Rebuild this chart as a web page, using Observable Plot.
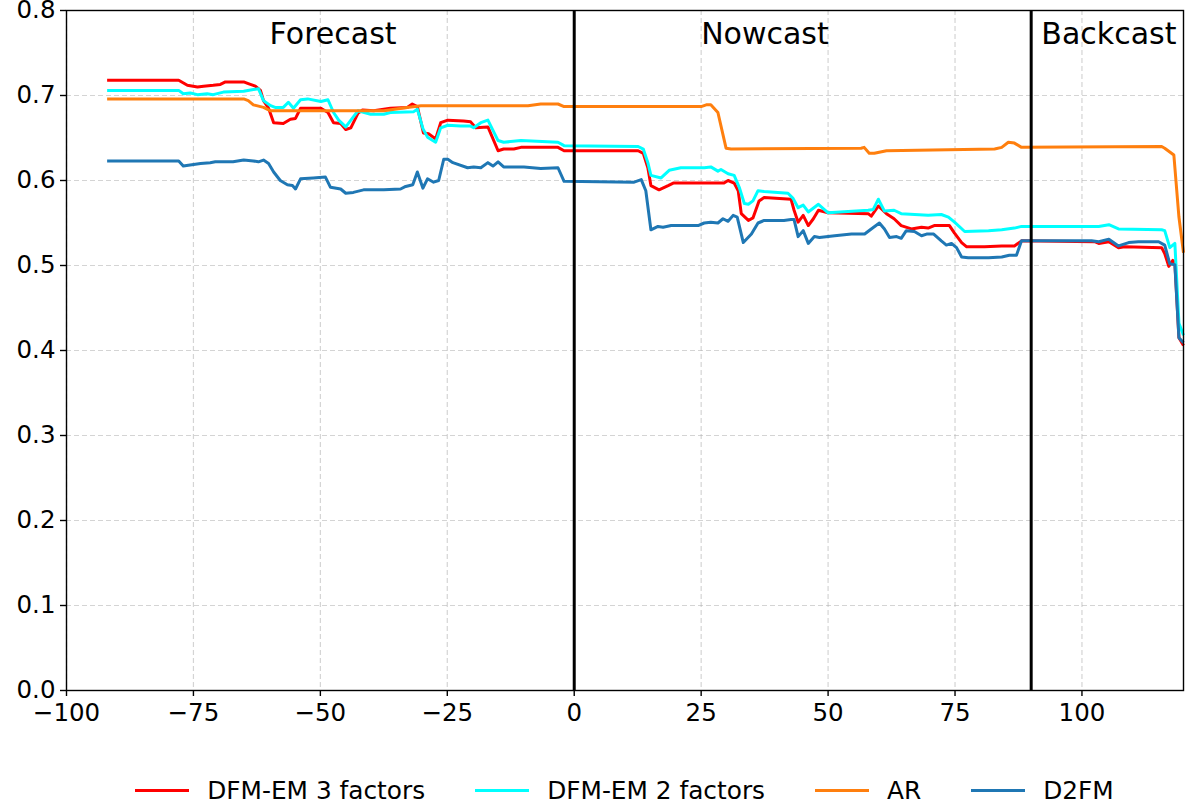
<!DOCTYPE html>
<html>
<head>
<meta charset="utf-8">
<script src="https://cdn.jsdelivr.net/npm/d3@7"></script>
<script src="https://cdn.jsdelivr.net/npm/@observablehq/plot@0.6"></script>
<style>
  html, body { margin: 0; padding: 0; background: white; }
  #chart { width: 1192px; }
  #legend { display: flex; justify-content: center; align-items: center; gap: 50px;
    padding-left: 66px; padding-right: 9px; height: 62px; box-sizing: border-box; width: 1192px;
    font-family: "DejaVu Sans", sans-serif; font-size: 24.8px; color: black; padding-top: 28px; }
  .item { display: flex; align-items: center; }
  .sw { width: 54px; height: 3px; margin-right: 18px; }
</style>
</head>
<body>
<div id="chart"></div>
<div id="legend"></div>
<script>
const seriesNames = ["DFM-EM 3 factors", "DFM-EM 2 factors", "AR", "D2FM"];
const seriesColors = ["#ff0000", "#00ffff", "#ff7f0e", "#1f77b4"];
const xTicks = [-100, -75, -50, -25, 0, 25, 50, 75, 100];
const yTicks = [0, 0.1, 0.2, 0.3, 0.4, 0.5, 0.6, 0.7, 0.8];
const phaseLabels = ["Forecast", "Nowcast", "Backcast"];
const phaseStarts = [-60, 25, 92];
const phaseBounds = [0, 90];

const dfm3 = [[-92,0.718],[-77.9,0.718],[-76.2,0.712],[-74.2,0.710],[-73.0,0.711],[-71.1,0.712],[-69.7,0.713],[-68.7,0.716],[-65.1,0.716],[-64.2,0.714],[-62.8,0.711],[-61.8,0.706],[-61.2,0.694],[-60.2,0.685],[-59.2,0.668],[-57.3,0.667],[-55.9,0.672],[-54.9,0.673],[-53.9,0.685],[-49.9,0.685],[-48.5,0.680],[-47.4,0.668],[-46.0,0.667],[-45.0,0.660],[-44.0,0.662],[-42.6,0.679],[-41.7,0.683],[-39.5,0.682],[-36.2,0.685],[-32.9,0.686],[-31.9,0.690],[-30.9,0.687],[-29.7,0.656],[-28.7,0.655],[-27.3,0.649],[-26.3,0.668],[-24.9,0.671],[-21.8,0.670],[-20.4,0.669],[-19.4,0.662],[-17.0,0.663],[-15.0,0.635],[-13.9,0.637],[-11.9,0.637],[-10.5,0.639],[-3.2,0.639],[-2.0,0.635],[12.6,0.635],[13.6,0.632],[14.5,0.615],[15.1,0.594],[16.7,0.589],[18.5,0.594],[19.5,0.597],[29.5,0.597],[30.3,0.600],[31.5,0.597],[32.3,0.588],[32.9,0.561],[34.3,0.553],[35.2,0.556],[36.4,0.576],[37.4,0.580],[42.7,0.578],[43.3,0.565],[44.1,0.551],[45.1,0.559],[46.1,0.547],[47.1,0.555],[48.1,0.565],[50.0,0.562],[57.9,0.561],[58.5,0.558],[59.9,0.570],[61.5,0.561],[63.0,0.555],[64.4,0.547],[66.4,0.543],[68.4,0.545],[69.7,0.544],[70.9,0.547],[73.9,0.547],[74.9,0.538],[76.3,0.527],[77.3,0.522],[80.8,0.522],[84.2,0.523],[86.7,0.523],[88.1,0.529],[102.5,0.528],[103.3,0.526],[105.3,0.528],[107.2,0.521],[108.4,0.522],[115.7,0.521],[116.3,0.514],[117.1,0.499],[117.9,0.506],[118.3,0.503],[119.1,0.415],[120,0.406]];

const dfm2 = [[-92,0.706],[-77.9,0.706],[-77.0,0.702],[-75.6,0.703],[-74.2,0.701],[-72.3,0.702],[-71.1,0.701],[-69.1,0.704],[-65.1,0.705],[-63.2,0.707],[-62.2,0.708],[-61.2,0.694],[-59.8,0.688],[-58.9,0.686],[-57.3,0.686],[-56.3,0.692],[-55.3,0.685],[-53.9,0.695],[-52.5,0.696],[-49.9,0.693],[-48.5,0.695],[-47.4,0.680],[-46.4,0.671],[-45.0,0.663],[-42.6,0.682],[-40.1,0.678],[-37.5,0.678],[-36.2,0.680],[-31.6,0.681],[-30.9,0.684],[-29.8,0.661],[-28.9,0.651],[-27.3,0.645],[-26.3,0.662],[-24.9,0.665],[-22.4,0.664],[-20.4,0.664],[-19.8,0.662],[-18.4,0.668],[-17.0,0.671],[-15.0,0.647],[-13.9,0.645],[-10.5,0.647],[-3.2,0.645],[-2.0,0.641],[12.6,0.640],[13.6,0.637],[14.5,0.621],[15.1,0.606],[17.1,0.603],[18.7,0.612],[21.0,0.615],[25.6,0.615],[26.9,0.616],[28.3,0.611],[28.9,0.613],[30.3,0.608],[31.5,0.606],[32.5,0.592],[33.5,0.573],[34.3,0.572],[35.2,0.576],[36.2,0.588],[37.4,0.587],[42.1,0.585],[43.1,0.579],[44.1,0.568],[45.1,0.571],[46.1,0.563],[48.1,0.572],[50.0,0.562],[57.9,0.565],[58.9,0.566],[59.9,0.578],[61.1,0.564],[63.0,0.565],[64.4,0.561],[69.7,0.559],[72.3,0.560],[73.7,0.557],[74.9,0.551],[76.9,0.540],[81.6,0.541],[84.2,0.542],[86.7,0.544],[88.1,0.546],[103.3,0.546],[105.3,0.548],[107.2,0.543],[115.7,0.542],[116.3,0.541],[117.3,0.521],[118.3,0.526],[119.1,0.432],[120,0.418]];

const ar = [[-92,0.696],[-65.1,0.696],[-64.2,0.694],[-63.2,0.689],[-61.2,0.686],[-59.8,0.682],[-37.5,0.682],[-32.9,0.686],[-30.2,0.688],[-9.1,0.688],[-6.6,0.690],[-3.2,0.690],[-2.0,0.687],[25.0,0.687],[26.0,0.689],[26.9,0.689],[28.3,0.680],[29.9,0.638],[30.9,0.637],[56.5,0.638],[57.1,0.639],[58.1,0.632],[59.1,0.632],[61.5,0.635],[82.8,0.637],[84.2,0.639],[85.5,0.645],[86.7,0.644],[88.1,0.639],[115.7,0.640],[116.3,0.638],[118.1,0.630],[119.1,0.557],[120,0.515]];

const d2fm = [[-92,0.623],[-77.9,0.623],[-77.0,0.617],[-76.0,0.618],[-73.6,0.620],[-71.7,0.621],[-70.7,0.622],[-67.2,0.622],[-65.1,0.624],[-63.2,0.623],[-62.2,0.622],[-61.2,0.624],[-60.2,0.620],[-59.2,0.610],[-57.9,0.600],[-56.5,0.595],[-55.5,0.594],[-54.9,0.590],[-53.9,0.602],[-51.4,0.603],[-49.0,0.604],[-48.0,0.592],[-46.0,0.590],[-45.0,0.585],[-43.5,0.586],[-41.5,0.589],[-37.5,0.589],[-34.2,0.590],[-33.2,0.593],[-31.8,0.595],[-30.9,0.610],[-29.8,0.591],[-28.9,0.602],[-27.7,0.598],[-26.7,0.600],[-25.7,0.625],[-24.9,0.625],[-23.9,0.621],[-21.0,0.615],[-19.8,0.616],[-18.4,0.615],[-17.0,0.621],[-16.0,0.617],[-15.0,0.622],[-13.9,0.616],[-9.9,0.616],[-6.6,0.614],[-3.2,0.615],[-2.0,0.599],[11.8,0.598],[13.2,0.601],[14.1,0.588],[15.1,0.542],[16.5,0.546],[17.5,0.545],[19.1,0.547],[24.4,0.547],[25.6,0.550],[26.9,0.551],[28.3,0.550],[29.3,0.555],[30.3,0.552],[31.3,0.559],[32.1,0.557],[33.3,0.527],[34.9,0.537],[36.2,0.550],[37.4,0.553],[41.3,0.553],[42.7,0.554],[43.3,0.554],[44.1,0.534],[45.1,0.541],[46.1,0.526],[47.3,0.534],[48.3,0.533],[51.3,0.535],[54.6,0.537],[57.2,0.537],[58.5,0.543],[60.1,0.550],[61.1,0.543],[62.1,0.533],[63.5,0.534],[64.4,0.532],[65.4,0.541],[67.0,0.540],[68.4,0.535],[69.4,0.537],[70.8,0.537],[72.3,0.529],[73.3,0.524],[74.3,0.526],[75.3,0.521],[76.3,0.510],[77.6,0.509],[81.6,0.509],[84.2,0.510],[85.7,0.512],[87.1,0.512],[88.1,0.529],[101.9,0.529],[103.3,0.528],[105.3,0.531],[107.2,0.523],[109.2,0.527],[111.1,0.528],[115.1,0.528],[116.3,0.524],[117.3,0.502],[118.3,0.501],[119.1,0.415],[120,0.409]];

const seriesData = [dfm3, dfm2, ar, d2fm];
const phases = phaseLabels.map((label, i) => ({label, x: phaseStarts[i], y: 0.772}));

const gridStyle = {stroke: "#b0b0b0", strokeOpacity: 0.55, strokeWidth: 1.2, strokeDasharray: "5,3"};

const lineMarks = seriesData.map((pts, i) =>
  Plot.line(pts.map(([x, y]) => ({x, y, name: seriesNames[i]})),
    {x: "x", y: "y", stroke: seriesColors[i], strokeWidth: 3, strokeLinejoin: "round", strokeLinecap: "butt"}));

const chart = Plot.plot({
  width: 1192,
  height: 745,
  marginTop: 10,
  marginBottom: 55,
  marginLeft: 66,
  marginRight: 9,
  style: {fontFamily: "DejaVu Sans, sans-serif", fontSize: "24px", background: "white", color: "black", overflow: "visible"},
  x: {domain: [-100, 120], label: null},
  y: {domain: [0, 0.8], label: null},
  marks: [
    Plot.gridX(xTicks, gridStyle),
    Plot.gridY(yTicks, gridStyle),
    ...lineMarks,
    Plot.ruleX(phaseBounds, {stroke: "black", strokeWidth: 3}),
    Plot.text(phases, {x: "x", y: "y", text: "label", textAnchor: "start", fontSize: 30, fill: "black"}),
    Plot.frame({stroke: "black", strokeWidth: 1.4}),
    Plot.axisX(xTicks, {tickSize: 6, tickPadding: 7, strokeWidth: 1.4, fontSize: 24.5, label: null}),
    Plot.axisY(yTicks, {tickSize: 6, tickPadding: 5, strokeWidth: 1.4, fontSize: 24.5, tickFormat: d3.format(".1f"), label: null})
  ]
});
document.getElementById("chart").appendChild(chart);

const legend = document.getElementById("legend");
seriesNames.forEach((n, i) => {
  const item = document.createElement("div");
  item.className = "item";
  const sw = document.createElement("span");
  sw.className = "sw";
  sw.style.background = seriesColors[i];
  const t = document.createElement("span");
  t.textContent = n;
  item.appendChild(sw);
  item.appendChild(t);
  legend.appendChild(item);
});
</script>
</body>
</html>
